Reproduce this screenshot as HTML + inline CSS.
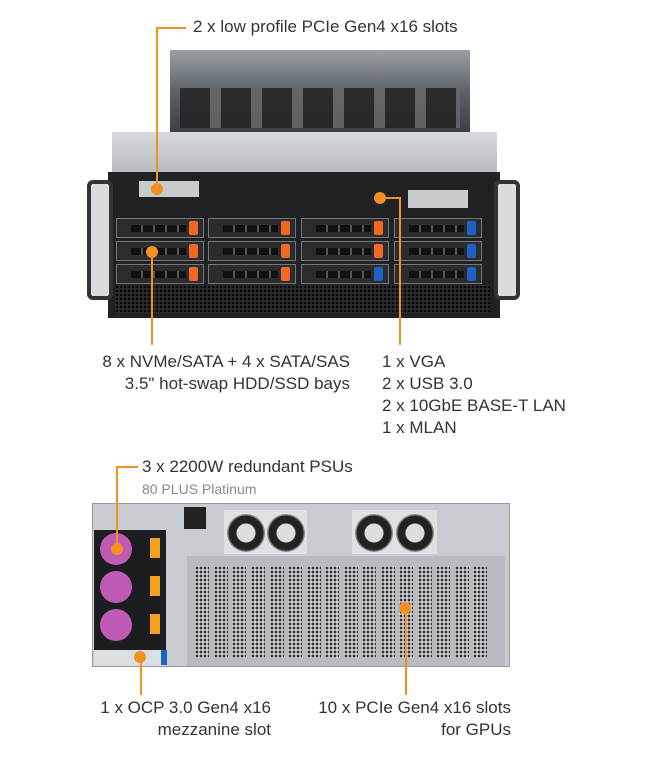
<!DOCTYPE html>
<html><head><style>
body{margin:0;width:651px;height:780px;background:#fff;position:relative;overflow:hidden;font-family:"Liberation Sans",sans-serif;}
.a{position:absolute;}
.t{position:absolute;font-size:17px;color:#333;line-height:22px;white-space:nowrap;}
.l{position:absolute;background:#f39021;}
.d{position:absolute;width:12px;height:12px;border-radius:50%;background:#f39021;}
.bay{position:absolute;width:88px;height:20px;background:#2a2c30;border:1px solid #777;box-sizing:border-box;}
.bay i{position:absolute;left:14px;top:6px;width:55px;height:7px;background:repeating-linear-gradient(90deg,#111 0 10px,#555 10px 12px);}
.bay b{position:absolute;right:5px;top:2px;width:9px;height:14px;border-radius:2px;background:#f26a21;}
.bay b.bl{background:#1e63c4;}
.slot{position:absolute;top:566px;width:14px;height:92px;background:radial-gradient(circle,#333 1.2px,#cfd2d6 1.6px) 0 0/4px 4px;}
.fan{position:absolute;width:38px;height:38px;border-radius:50%;background:radial-gradient(circle,#ddd 0 9px,#222 10px 17px,#888 18px);}
</style></head><body>
<!-- front server -->
<div class="a" style="left:170px;top:50px;width:300px;height:84px;background:linear-gradient(#9aa0a6,#5b6168 50%,#3a3e44);"></div>
<div class="a" style="left:180px;top:88px;width:280px;height:40px;background:repeating-linear-gradient(90deg,#222 0 30px,#666 30px 41px);opacity:.85"></div>
<div class="a" style="left:112px;top:132px;width:385px;height:42px;background:linear-gradient(#d7dadd,#b5b9bd);"></div>
<div class="a" style="left:108px;top:172px;width:392px;height:146px;background:#1f2124;"></div>
<div class="a" style="left:87px;top:180px;width:26px;height:120px;background:#d9dcdf;border-radius:6px;border:4px solid #333;box-sizing:border-box"></div>
<div class="a" style="left:494px;top:180px;width:26px;height:120px;background:#d9dcdf;border-radius:6px;border:4px solid #333;box-sizing:border-box"></div>
<div class="a" style="left:139px;top:181px;width:60px;height:16px;background:#c8cbce;"></div>
<div class="a" style="left:408px;top:190px;width:60px;height:18px;background:#c8cbce;"></div>
<div class="a" style="left:115px;top:285px;width:375px;height:28px;background:radial-gradient(circle,#000 1px,#2b2d30 1.5px) 0 0/4px 4px;"></div>
<div class="bay" style="left:116px;top:218px"><i></i><b></b></div>
<div class="bay" style="left:208px;top:218px"><i></i><b></b></div>
<div class="bay" style="left:301px;top:218px"><i></i><b></b></div>
<div class="bay" style="left:394px;top:218px"><i></i><b class="bl"></b></div>
<div class="bay" style="left:116px;top:241px"><i></i><b></b></div>
<div class="bay" style="left:208px;top:241px"><i></i><b></b></div>
<div class="bay" style="left:301px;top:241px"><i></i><b></b></div>
<div class="bay" style="left:394px;top:241px"><i></i><b class="bl"></b></div>
<div class="bay" style="left:116px;top:264px"><i></i><b></b></div>
<div class="bay" style="left:208px;top:264px"><i></i><b></b></div>
<div class="bay" style="left:301px;top:264px"><i></i><b class="bl"></b></div>
<div class="bay" style="left:394px;top:264px"><i></i><b class="bl"></b></div>
<!-- front labels -->
<div class="t" style="left:193px;top:16px">2 x low profile PCIe Gen4 x16 slots</div>
<div class="l" style="left:156px;top:27px;width:30px;height:2px"></div>
<div class="l" style="left:156px;top:27px;width:2px;height:158px"></div>
<div class="d" style="left:151px;top:183px"></div>
<div class="d" style="left:146px;top:246px"></div>
<div class="l" style="left:151px;top:252px;width:2px;height:93px"></div>
<div class="d" style="left:374px;top:192px"></div>
<div class="l" style="left:380px;top:197px;width:21px;height:2px"></div>
<div class="l" style="left:399px;top:197px;width:2px;height:148px"></div>
<div class="t" style="left:92px;top:351px;width:258px;text-align:right">8 x NVMe/SATA + 4 x SATA/SAS<br>3.5" hot-swap HDD/SSD bays</div>
<div class="t" style="left:382px;top:351px">1 x VGA<br>2 x USB 3.0<br>2 x 10GbE BASE-T LAN<br>1 x MLAN</div>
<!-- rear server -->
<div class="a" style="left:92px;top:503px;width:418px;height:164px;background:#c9cdd1;border:1px solid #999;box-sizing:border-box"></div>
<div class="a" style="left:187px;top:556px;width:318px;height:110px;background:#b8bcc0;"></div>
<div class="a" style="left:224px;top:510px;width:83px;height:44px;background:#dfe1e3;"></div>
<div class="a" style="left:352px;top:510px;width:85px;height:44px;background:#dfe1e3;"></div>
<div class="fan" style="left:227px;top:514px"></div><div class="fan" style="left:267px;top:514px"></div>
<div class="fan" style="left:355px;top:514px"></div><div class="fan" style="left:396px;top:514px"></div>
<div class="a" style="left:184px;top:507px;width:22px;height:22px;background:#222"></div>
<div class="a" style="left:94px;top:530px;width:72px;height:120px;background:#1c1d20;"></div>
<div class="a" style="left:100px;top:533px;width:32px;height:32px;border-radius:50%;background:#c05bb5"></div>
<div class="a" style="left:100px;top:571px;width:32px;height:32px;border-radius:50%;background:#c05bb5"></div>
<div class="a" style="left:100px;top:609px;width:32px;height:32px;border-radius:50%;background:#c05bb5"></div>
<div class="a" style="left:150px;top:538px;width:10px;height:20px;background:#f4a11d"></div>
<div class="a" style="left:150px;top:576px;width:10px;height:20px;background:#f4a11d"></div>
<div class="a" style="left:150px;top:614px;width:10px;height:20px;background:#f4a11d"></div>
<div class="a" style="left:94px;top:650px;width:70px;height:16px;background:#dcdfe2"></div>
<div class="a" style="left:161px;top:650px;width:6px;height:15px;background:#1e63c4"></div>
<div class="slot" style="left:195px"></div><div class="slot" style="left:214px"></div><div class="slot" style="left:232px"></div><div class="slot" style="left:251px"></div><div class="slot" style="left:270px"></div><div class="slot" style="left:288px"></div><div class="slot" style="left:307px"></div><div class="slot" style="left:325px"></div><div class="slot" style="left:344px"></div><div class="slot" style="left:362px"></div><div class="slot" style="left:381px"></div><div class="slot" style="left:399px"></div><div class="slot" style="left:418px"></div><div class="slot" style="left:436px"></div><div class="slot" style="left:455px"></div><div class="slot" style="left:473px"></div>
<!-- rear labels -->
<div class="t" style="left:142px;top:456px">3 x 2200W redundant PSUs</div>
<div class="a" style="left:142px;top:481px;font-size:14px;color:#888">80 PLUS Platinum</div>
<div class="l" style="left:116px;top:466px;width:22px;height:2px"></div>
<div class="l" style="left:116px;top:466px;width:2px;height:80px"></div>
<div class="d" style="left:111px;top:543px"></div>
<div class="d" style="left:134px;top:651px"></div>
<div class="l" style="left:140px;top:657px;width:2px;height:38px"></div>
<div class="d" style="left:399px;top:602px"></div>
<div class="l" style="left:405px;top:608px;width:2px;height:87px"></div>
<div class="t" style="left:60px;top:697px;width:211px;text-align:right">1 x OCP 3.0 Gen4 x16<br>mezzanine slot</div>
<div class="t" style="left:280px;top:697px;width:231px;text-align:right">10 x PCIe Gen4 x16 slots<br>for GPUs</div>
</body></html>
